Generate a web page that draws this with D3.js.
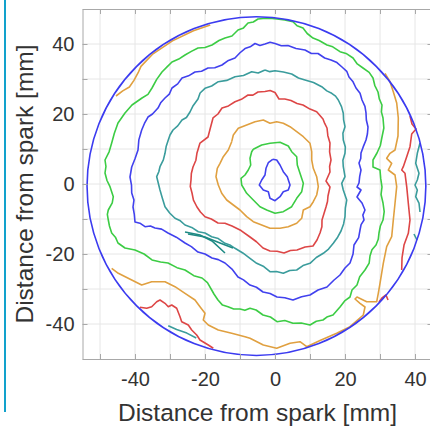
<!DOCTYPE html>
<html>
<head>
<meta charset="utf-8">
<script src="https://cdn.jsdelivr.net/npm/d3@7/dist/d3.min.js"></script>
<style>
  html, body { margin: 0; padding: 0; background: #fff; }
  svg { display: block; }
</style>
</head>
<body>
<script>
// Flame-front contours (mm from spark), innermost first; colours cycle every five fronts
const front1 = [[-0.66,7.06],[0.49,6.86],[1.43,5.43],[2.37,3.51],[3.51,2.09],[4.29,-0.29],[3.8,-1.71],[2.37,-2.2],[1.43,-3.63],[0,-4.77],[-1.43,-4.09],[-1.91,-2.2],[-3.34,-1.71],[-4.49,-0.29],[-3.8,1.14],[-2.86,2.57],[-2.57,4.49],[-1.91,6.09],[-0.66,7.06]];
const front2 = [[-6.2,9.91],[-3.8,11.14],[-1.43,11.63],[1.43,11.91],[3.8,10.86],[4.77,9.23],[6.2,7.8],[6.37,5.43],[7.14,3.06],[8.09,0.2],[7.63,-2.2],[6.2,-4.09],[4.77,-6.49],[2.37,-7.91],[0,-8.37],[-2.37,-7.43],[-4.29,-6.49],[-6.2,-4.57],[-8.09,-2.66],[-9.51,-0.29],[-9.71,1.63],[-8.57,2.57],[-7.63,4],[-6.94,5.43],[-7.14,7.34],[-6.66,9.23],[-6.2,9.91]];
const front3 = [[-12.37,12.09],[-11.91,14],[-10.49,15.91],[-8.09,16.86],[-5.71,17.8],[-3.34,18.29],[-1.43,17.34],[0.49,17.8],[2.37,17.34],[4.29,16.37],[6.2,14.94],[8.09,13.51],[10,11.63],[10.49,9.23],[10.49,6.86],[10.94,4.49],[11.91,2.09],[12.37,-0.77],[11.91,-3.14],[10.94,-5.06],[10,-6.49],[8.09,-7.43],[7.63,-9.8],[6.2,-11.23],[3.8,-12.2],[1.43,-12.66],[-1.43,-12.66],[-3.8,-11.71],[-6.2,-10.77],[-8.09,-9.34],[-10,-7.43],[-11.91,-6],[-13.8,-4.57],[-15.23,-2.66],[-16.2,-0.29],[-16.86,2.09],[-16.49,4.49],[-15.71,5.91],[-14.77,7.8],[-13.34,9.71],[-12.37,12.09]];
const front4 = [[-2.86,26.43],[-1.4,26.7],[0,26.14],[1.14,24.29],[2.8,24.3],[4.57,23.86],[6.3,23.0],[8,22.57],[10.0,21.4],[11.91,20.66],[13.71,18.57],[14.2,17.3],[14.86,16],[15.1,13.8],[15.71,11.71],[15.6,9.2],[16,6.86],[15.6,5.0],[15.71,3.43],[14.57,0.86],[15.71,-0.86],[15.14,-3.43],[15.0,-5.0],[14.57,-6.57],[14.0,-8.4],[13.43,-10.29],[13.4,-12.2],[12.86,-14],[12.0,-16.0],[10.86,-17.71],[8.6,-18.0],[6.29,-18.86],[4.4,-19.0],[2.57,-19.71],[0.6,-19.2],[-1.43,-19.14],[-3.43,-18.29],[-5.3,-16.5],[-7.14,-15.14],[-9.7,-13.3],[-12.29,-12],[-14.3,-11.2],[-16.29,-11.14],[-18.2,-10.0],[-20,-9.34],[-21.3,-8.0],[-22.29,-6.57],[-23.3,-4.6],[-23.71,-2.57],[-24.2,-0.7],[-24,1.14],[-23.9,3.0],[-23.43,4.86],[-22.6,6.8],[-22.29,8.86],[-21.43,11.71],[-19.14,13.43],[-18.6,15.5],[-18.09,17.43],[-17.71,18.86],[-16.3,20.0],[-15.14,21.71],[-13.3,22.3],[-11.43,23.51],[-9.6,24.2],[-7.71,25.43],[-6.3,25.4],[-4.86,26.29],[-2.86,26.43]];
const front5 = [[-2.86,32.57],[-1.5,32.1],[0,32.37],[2.4,32.0],[4.77,31.43],[6.7,30.3],[8.57,29.71],[11.0,29.0],[13.34,27.8],[14.8,26.6],[16.2,25.91],[17.3,25.1],[18.09,24],[19.0,22.1],[19.51,20.2],[19.6,18.3],[20,16.37],[19.4,14.5],[19.51,12.57],[20.1,10.6],[20,8.77],[19.4,6.8],[19.51,4.94],[20,2.09],[19.06,0.2],[19.51,-1.71],[20.49,-4.57],[20.1,-6.9],[20,-9.34],[19.6,-11.4],[18.86,-13.43],[17.9,-15.2],[16.66,-16.94],[15.3,-18.6],[13.8,-19.8],[11.8,-21.0],[10,-22.66],[8.0,-23.3],[6.2,-24.57],[4.2,-24.7],[2.37,-25.51],[0.4,-25.0],[-1.43,-25.06],[-3.2,-23.6],[-5.23,-22.66],[-7.14,-21.23],[-9.2,-19.7],[-11.43,-18.37],[-12.9,-17.4],[-14.29,-16.94],[-16.2,-15.6],[-18.09,-15.06],[-20.0,-14.0],[-21.91,-13.63],[-23.8,-12.4],[-25.71,-11.71],[-27.2,-10.4],[-28.57,-9.8],[-30.1,-8.3],[-31.43,-6.49],[-32.2,-4.0],[-32.86,-1.71],[-33.8,2.09],[-33.2,3.5],[-32.86,4.94],[-31.9,6.9],[-31.43,8.77],[-31.1,10.7],[-30.49,12.57],[-30.0,14.0],[-29.14,15.43],[-27.8,16.6],[-26.57,18.29],[-25.3,19.0],[-24.29,20.57],[-23.5,22.2],[-22,24.29],[-21.4,26.0],[-20,27.34],[-18.1,28.0],[-16.2,29.23],[-13.8,29.6],[-11.43,30.66],[-9.0,31.0],[-6.66,32.09],[-4.8,31.7],[-2.86,32.57]];
const front6 = [[-2.86,40],[-1.4,40.5],[0,40.14],[1.8,39.5],[3.71,39.57],[6.0,38.7],[8.57,38.29],[10.4,37.3],[12.29,37.29],[14.2,36.0],[16,35.43],[17.7,34.7],[19.14,33.43],[20.5,32.2],[21.14,30.57],[22.3,29.2],[23.14,27.43],[24.3,25.9],[24.86,24],[25.7,22.2],[26,20.29],[26.1,18.3],[26.57,16.29],[26.4,14.3],[26,12.57],[25.2,10.6],[24.57,8.86],[24.5,7.3],[24,6],[24.57,4],[24.2,2.2],[24,0.29],[23.43,-0.86],[24.57,-1.71],[23.43,-3.71],[24.86,-5.43],[25.71,-7.43],[25.1,-8.9],[25.43,-10.29],[24.6,-11.6],[24.29,-13.14],[23.9,-15.3],[22.57,-17.43],[22.3,-20.0],[21.43,-22.57],[20.0,-24.0],[18.57,-26],[16.8,-27.5],[14.86,-29.43],[12.3,-30.3],[10,-31.71],[7.6,-32.2],[5.14,-33.14],[2.8,-32.5],[0.57,-32.29],[-1.4,-31.3],[-3.43,-30.86],[-5.3,-29.5],[-7.14,-28.86],[-9.0,-27.4],[-10.57,-26.57],[-12.3,-24.3],[-14.29,-22.57],[-16.2,-21.6],[-18,-21.14],[-20.0,-20.0],[-22,-19.43],[-23.9,-17.9],[-25.71,-16.86],[-28.2,-15.2],[-30.57,-14],[-32.4,-12.9],[-34.29,-12.57],[-35.6,-12.0],[-37.14,-12.2],[-38.6,-11.2],[-40,-10.86],[-40.2,-8.7],[-40.57,-6.57],[-40.3,-4.6],[-40.94,-2.57],[-41.0,-0.3],[-41.43,2],[-40.94,4.86],[-40.0,7.2],[-39.14,9.71],[-38.9,12.6],[-38.09,15.43],[-37.3,17.3],[-36.29,19.14],[-35.0,20.0],[-33.43,21.71],[-32.6,23.3],[-31.43,24.57],[-30.2,25.7],[-29.43,27.43],[-27.8,28.6],[-26.57,30.29],[-24.7,30.9],[-22.86,32],[-21.0,32.2],[-19.14,33.14],[-17.2,33.2],[-15.14,34],[-13.3,35.3],[-11.43,36],[-10.0,37.5],[-8.57,38.71],[-7.1,39.2],[-5.71,40.14],[-4.3,39.6],[-2.86,40]];
const front7 = [[-3.43,47.29],[-1.5,47.4],[0.57,47.14],[2.8,46.9],[5.14,46.37],[6.3,45.2],[8,44.57],[9.2,43.0],[10.86,41.71],[12.6,41.0],[14.86,39.71],[16.5,39.2],[18.57,37.8],[20.3,37.3],[22.29,36],[23.5,34.3],[25.14,33.14],[26.9,31.9],[28,30.29],[28.5,28.2],[29.43,26.29],[29.8,24.3],[30.57,22.57],[30.4,20.6],[30.86,18.86],[31.1,16.0],[30.57,13.43],[30.1,11.0],[29.14,8.86],[28,6.86],[28,4.86],[30,4],[30.2,1.6],[30.57,-0.86],[30.3,-3.0],[30.86,-5.43],[31.2,-7.9],[30.86,-10.29],[30.1,-12.0],[29.71,-14],[29.5,-15.8],[28.86,-17.43],[27.7,-18.8],[27.14,-20.57],[26.9,-22.6],[25.71,-24.57],[24.2,-26.5],[23.43,-28.86],[22.0,-30.3],[21.43,-32.29],[19.9,-33.4],[18.57,-35.14],[16.57,-37.43],[15.0,-37.9],[13.71,-38.86],[11.8,-39.2],[10,-40.29],[7.5,-39.7],[5.14,-39.8],[2.8,-39.0],[0.57,-39.34],[-1.3,-38.0],[-3.43,-37.43],[-5.4,-36.0],[-7.14,-35.51],[-8.6,-36.1],[-10,-35.71],[-11.8,-35.7],[-13.43,-35.06],[-15.0,-34.6],[-16.29,-33.14],[-17.4,-31.5],[-18.09,-30.29],[-19.3,-28.2],[-20.86,-26.86],[-23.2,-26.2],[-25.71,-24.57],[-28.0,-23.9],[-30.57,-22.57],[-32.7,-22.3],[-35.14,-21.71],[-37.4,-20.0],[-40,-18.86],[-42.86,-18.29],[-44.86,-16.86],[-45.6,-15.2],[-46.66,-14],[-47.3,-12.0],[-47.63,-10.29],[-47.9,-8.7],[-47.63,-7.43],[-46.5,-5.4],[-46.2,-3.63],[-47.14,-0.77],[-48.0,1.0],[-48.57,3.14],[-48.3,5.0],[-48.57,6.86],[-47.4,9.2],[-46.66,11.71],[-45.9,14.5],[-44.86,17.43],[-42.86,20.29],[-40.86,22.57],[-38,24.57],[-36.3,25.6],[-35.14,27.43],[-33.8,29.9],[-32.29,32],[-30.7,33.6],[-29.43,34.86],[-27.5,35.7],[-25.71,36.86],[-23.9,37.9],[-22,38.86],[-20.0,39.0],[-18,39.71],[-16.0,41.0],[-14.29,41.71],[-12.3,42.3],[-10.57,44],[-9.0,44.6],[-7.71,46],[-6.2,46.3],[-4.86,47.14],[-3.43,47.29]];
// Outer fronts, cut off by the chamber wall: only the visible pieces
const front8a = [[-45.43,25.14],[-43.5,26.6],[-41.6,27.7],[-40.3,29.6],[-39.1,31.8],[-38.3,33.6],[-34.85,37.2],[-29.3,40.9],[-23.3,43.8],[-18.5,45.4]];
const front8b = [[31.43,31.63],[32.86,29.23],[33.8,26.37],[34.77,23.14],[35.23,18.86],[35.14,13.71],[34.29,9.71],[32.86,8.77],[31.91,7.34],[33.34,5.91],[32.37,4],[34.29,2.57],[34.77,-0.77],[34.29,-5.51],[33.8,-10.29],[33.34,-15.06],[31.91,-17.91],[30.94,-22.66],[30,-28.37],[29.51,-31.23],[29.06,-33.63],[26.2,-33.63],[23.43,-32.29],[22.86,-32.86],[24.29,-34.09],[25.71,-35.14],[25.23,-37.43],[21.43,-40.77],[17.63,-42.66],[12.86,-44.71],[9.06,-46.49],[7.14,-45.06],[4.29,-45.51],[0.49,-46.94],[-3.34,-46],[-7.14,-44.09],[-8.57,-43.63],[-12.37,-42.66],[-16.2,-41.71],[-19.06,-40.29],[-20.49,-38.86],[-20,-36.94],[-21.43,-35.06],[-22.86,-33.14],[-25.71,-31.23],[-28.57,-29.34],[-31.43,-27.91],[-35.23,-27.91],[-38.09,-28.86],[-40.94,-27.43],[-44.77,-25.51],[-46.66,-24.09]];
const front9a = [[38.57,19.43],[39.14,17.14],[40.29,15.71],[39.06,14.29],[38.57,10.66],[37.63,7.8],[36.66,4.94],[36.2,4],[37.14,3.06],[37.63,-0.77],[38.09,-5.51],[38.57,-10.29],[38.09,-14.09],[36.86,-17.43],[36.29,-21.14],[36.2,-24.57]];
const front9b = [[29.71,-33.71],[30.57,-32.57],[31.71,-31.71],[32.29,-33.14]];
const front9c = [[-38.57,-35.23],[-36.66,-35.51],[-35.23,-35.06],[-33.8,-33.63],[-32.86,-33.14],[-31.43,-34.09],[-30.49,-35.06],[-29.51,-34.57],[-28.09,-35.51],[-27.14,-37.91],[-26.66,-39.34],[-24.77,-40.29],[-23.8,-41.71],[-22.37,-43.14],[-21.43,-44.57],[-19.06,-46],[-17.63,-46.94]];
const front10a = [[41.43,11.71],[40.66,8.77],[40.2,5.91],[41.14,3.06],[40.66,1.14],[40,-0.29],[40.66,-1.71],[40.2,-3.63],[41.14,-5.43],[41.43,-8]];
const front10b = [[39.71,-14.29],[40.57,-16]];
const front10c = [[-30.5,-40.5],[-28.1,-41.6],[-25.2,-42.6],[-22.5,-44]];
// Short detached streaks left of the centre
const streakA = [[-25.71,-13.71],[-21.43,-14.57],[-18,-16.29],[-14.29,-19.71]];
const streakB = [[-24.86,-14.29],[-20,-15.14],[-15.71,-16.86],[-12,-18.29]];

const frontColors = ["#4141ee", "#3ccc44", "#e0a040", "#dd4646", "#3a9c9c"];
const fronts = [
  {pts: front1, c: 0}, {pts: front2, c: 1}, {pts: front3, c: 2}, {pts: front4, c: 3},
  {pts: front5, c: 4}, {pts: front6, c: 0}, {pts: front7, c: 1},
  {pts: front8a, c: 2}, {pts: front8b, c: 2},
  {pts: front9a, c: 3}, {pts: front9b, c: 3}, {pts: front9c, c: 3},
  {pts: front10a, c: 4}, {pts: front10b, c: 4}, {pts: front10c, c: 4}
];
const streakColor = "#1f8a84";

// Chamber wall
const chamberCenter = [-5.3, -0.6];
const chamberRadius = 48.4;

const xTicks = [-40, -20, 0, 20, 40];
const yTicks = [-40, -20, 0, 20, 40];
const gridStep = d3.range(-50, 50.1, 10);
const axisTitle = "Distance from spark [mm]";

const W = 430, H = 426;
const svg = d3.select("body").append("svg").attr("width", W).attr("height", H);

const x = d3.scaleLinear().domain([-55, 45]).range([82.5, 432.5]);
const y = d3.scaleLinear().domain([-50, 50]).range([359, 9]);
const [x0, x1] = x.range(), [y0, y1] = y.range();

// Page margin rule on the left
svg.append("line").attr("x1", 5).attr("x2", 5).attr("y1", 0).attr("y2", 412)
  .attr("stroke", "#12a2cc").attr("stroke-width", 2);

svg.append("defs").append("clipPath").attr("id", "plotClip")
  .append("rect").attr("x", x0).attr("y", y1).attr("width", x1 - x0).attr("height", y0 - y1);

// Grid
const grid = svg.append("g").attr("stroke", "#e6e6e6").attr("stroke-width", 1);
gridStep.forEach(v => {
  if (x(v) > x0 + 0.5 && x(v) < x1 - 0.5)
    grid.append("line").attr("x1", x(v)).attr("x2", x(v)).attr("y1", y1).attr("y2", y0);
  if (y(v) < y0 - 0.5 && y(v) > y1 + 0.5)
    grid.append("line").attr("x1", x0).attr("x2", x1).attr("y1", y(v)).attr("y2", y(v));
});

const plot = svg.append("g").attr("clip-path", "url(#plotClip)");
const line = d3.line().x(d => x(d[0])).y(d => y(d[1]));

plot.selectAll("path.front").data(fronts).join("path")
  .attr("class", "front")
  .attr("d", d => line(d.pts))
  .attr("fill", "none")
  .attr("stroke", d => frontColors[d.c])
  .attr("stroke-width", 1.6)
  .attr("stroke-linejoin", "round");

plot.selectAll("path.streak").data([streakA, streakB]).join("path")
  .attr("class", "streak")
  .attr("d", line)
  .attr("fill", "none")
  .attr("stroke", streakColor)
  .attr("stroke-width", 1.6);

plot.append("circle")
  .attr("cx", x(chamberCenter[0])).attr("cy", y(chamberCenter[1]))
  .attr("r", x(chamberRadius) - x(0))
  .attr("fill", "none").attr("stroke", "#3b3bf0").attr("stroke-width", 1.6);

// Axes (ticks point inward, labels every 20 mm)
const axisColor = "#a8a8a8";
const axBottom = svg.append("g").attr("transform", `translate(0,${y0})`)
  .call(d3.axisBottom(x).tickValues(gridStep).tickSizeInner(-5).tickSizeOuter(0)
    .tickFormat(d => xTicks.includes(d) ? d : ""));
const axTop = svg.append("g").attr("transform", `translate(0,${y1})`)
  .call(d3.axisTop(x).tickValues(gridStep).tickSizeInner(-5).tickSizeOuter(0).tickFormat(""));
const axLeft = svg.append("g").attr("transform", `translate(${x0},0)`)
  .call(d3.axisLeft(y).tickValues(gridStep).tickSizeInner(-5).tickSizeOuter(0)
    .tickFormat(d => yTicks.includes(d) ? d : ""));
const axRight = svg.append("g").attr("transform", `translate(${x1},0)`)
  .call(d3.axisRight(y).tickValues(gridStep).tickSizeInner(-5).tickSizeOuter(0).tickFormat(""));

[axBottom, axTop, axLeft, axRight].forEach(g => {
  g.select(".domain").attr("stroke", axisColor);
  g.selectAll(".tick line").attr("stroke", axisColor);
  g.selectAll(".tick text")
    .attr("fill", "#333")
    .attr("font-family", "'Liberation Sans', Arial, sans-serif")
    .attr("font-size", 20);
});
axBottom.selectAll(".tick text").attr("y", 13);
axLeft.selectAll(".tick text").attr("x", -8);

svg.append("text")
  .attr("x", (x0 + x1) / 2).attr("y", 421)
  .attr("text-anchor", "middle")
  .attr("font-family", "'Liberation Sans', Arial, sans-serif")
  .attr("font-size", 24.5).attr("fill", "#333")
  .text(axisTitle);

svg.append("text")
  .attr("transform", `translate(33,${(y0 + y1) / 2}) rotate(-90)`)
  .attr("text-anchor", "middle")
  .attr("font-family", "'Liberation Sans', Arial, sans-serif")
  .attr("font-size", 24.5).attr("fill", "#333")
  .text(axisTitle);
</script>
</body>
</html>
